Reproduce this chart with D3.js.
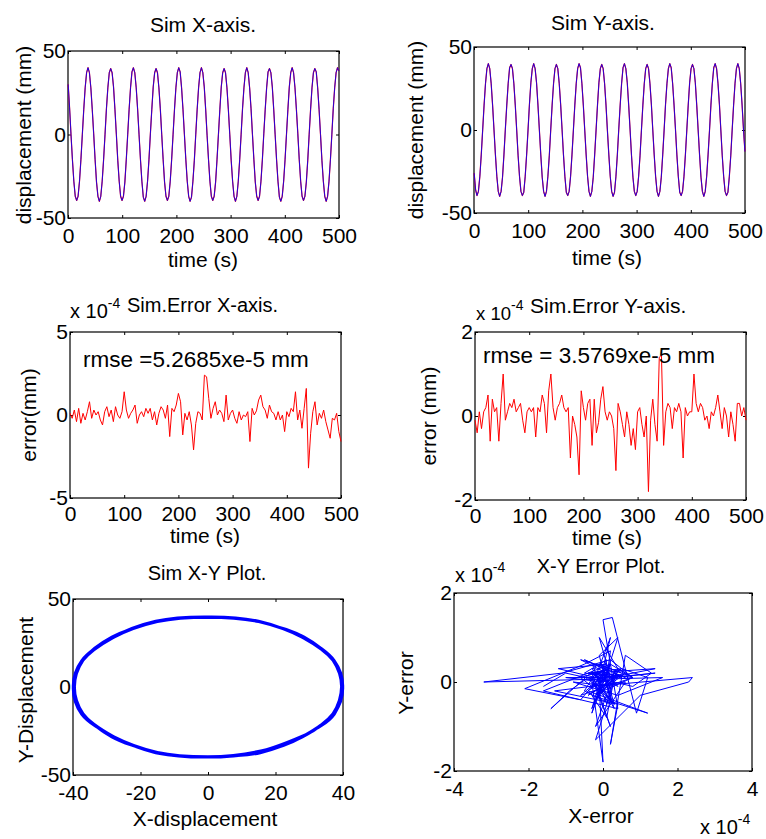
<!DOCTYPE html>
<html>
<head>
<meta charset="utf-8">
<script src="https://cdn.jsdelivr.net/npm/d3@7"></script>
<style>
body { margin: 0; background: #fff; }
</style>
</head>
<body>
<script>
var FONT = "'Liberation Sans', Arial, sans-serif";

// sim time samples (s), 16 per cycle of ~41.85 s
var simT = d3.range(0.3, 500, 2.6156);

// simulated X displacement (mm), one cycle per row
var simX = [
  30, 16, 0, -15, -28, -37, -39.5, -37, -28, -15, 0, 15, 28, 37, 40, 37,
  28, 15, 0.5, -15, -28.5, -37, -40, -37, -28, -15, 0, 15.5, 28, 37, 39.5, 37,
  28.5, 15, 0, -15.5, -28, -37, -39.5, -37, -28.5, -15, 0, 15, 28, 37.5, 40, 37,
  28, 15, 0, -15, -28, -37.5, -40, -37, -28, -15, 0.5, 15, 28.5, 37, 39.5, 37,
  28, 15.5, 0, -15, -28.5, -37, -39.5, -37, -28, -15, 0, 15, 28, 37, 40, 37.5,
  28, 15, 0, -15, -28, -37, -40, -37.5, -28, -15.5, 0, 15, 28, 37, 40, 37,
  28.5, 15, -0.5, -15, -28, -37, -39.5, -37, -28.5, -15, 0, 15, 28.5, 37, 39.5, 37,
  28, 15, 0, -15.5, -28, -37, -40, -37, -28, -15, 0, 15.5, 28, 37, 40, 37,
  28, 15.5, 0, -15, -28.5, -37, -39.5, -37, -28, -15, 0.5, 15, 28, 37.5, 39.5, 37,
  28.5, 15, 0, -15, -28, -37.5, -40, -37, -28, -15, 0, 15, 28.5, 37, 40, 37,
  28, 15, 0.5, -15, -28, -37, -39.5, -37, -28.5, -15.5, 0, 15, 28, 37, 39.5, 37.5,
  28, 15, 0, -15.5, -28, -37, -40, -37, -28, -15, 0, 15.5, 28, 37, 40, 38
];

// simulated Y displacement (mm), one cycle per row
var simY = [
  -26, -36, -39.5, -37, -28, -15, 0, 15, 28, 37, 40, 37, 28, 15, 0, -15,
  -28, -37, -40, -37, -28.5, -15, 0.5, 15, 28, 37.5, 39.5, 37, 28, 15, 0, -15.5,
  -28, -37, -39.5, -37.5, -28, -15, 0, 15.5, 28.5, 37, 40, 37, 28.5, 15, 0, -15,
  -28.5, -37, -40, -37, -28, -15.5, 0, 15, 28, 37, 39.5, 37, 28, 15.5, 0.5, -15,
  -28, -37.5, -39.5, -37, -28, -15, 0, 15, 28, 37, 40, 37.5, 28, 15, 0, -15,
  -28, -37, -40, -37, -28.5, -15, 0, 15, 28.5, 37, 39.5, 37, 28, 15, -0.5, -15,
  -28, -37, -40, -37.5, -28, -15, 0.5, 15, 28, 37.5, 40, 37, 28.5, 15, 0, -15.5,
  -28.5, -37, -39.5, -37, -28, -15.5, 0, 15, 28, 37, 39.5, 37, 28, 15.5, 0, -15,
  -28, -37, -40, -37, -28.5, -15, 0, 15.5, 28, 37, 40, 37.5, 28, 15, 0.5, -15,
  -28, -37.5, -39.5, -37, -28, -15, 0, 15, 28.5, 37, 39.5, 37, 28.5, 15, 0, -15,
  -28.5, -37, -40, -37, -28, -15, -0.5, 15, 28, 37.5, 40, 37, 28, 15.5, 0, -15.5,
  -28, -37, -39.5, -37.5, -28, -15.5, 0, 15, 28, 37, 40, 37, 28, 15, 0, -13
];

// error samples every 4 s, values in units of 1e-4 mm
var errT = d3.range(0, 501, 4);
var errX = [
  0.1, -0.2, 0.3, -0.4, 0.4, -0.5, 0.1, -0.3, 0.2, 0.8,
  -0.2, 0.3, 0.0, 0.2, -0.3, -0.6, 0.2, 0.5, -0.1, 0.3,
  -0.4, 0.5, 0.0, -0.2, 0.2, 1.4, 0.3, -0.2, 0.1, 0.3,
  0.6, -0.5, 0.0, 0.2, -0.1, 0.4, 0.1, 0.4, -0.3, 0.2,
  -0.6, 0.1, 0.5, 0.3, -0.2, 0.6, -1.3, 0.4, 0.2, 0.6,
  1.3, 0.8, -1.2, 0.1, -0.3, 0.2, -0.6, -2.1, -0.5, 0.2,
  0.1, -0.3, 2.4, 2.3, 1.0, -0.2, 0.4, 0.8, 0.0, 0.3,
  0.1, -0.4, 1.2, -0.3, 0.1, 0.3, -0.2, -0.5, 0.2, -0.3,
  0.0, -0.1, 0.2, -1.6, 0.4, 0.0, 0.25, 0.9, 1.2, 0.5,
  0.3, -0.2, 0.6, 0.2, 0.1, -0.3, 0.2, -0.3, 0.0, -1.0,
  0.2, -0.1, 0.4, 0.2, 1.4, -0.3, 0.3, -0.8, 0.4, 1.6,
  -3.2, -1.1, 0.2, 0.8, -0.6, 0.1, -0.2, 0.3, -0.4, -0.9,
  -1.4, -0.2, -0.3, 0.1, -1.0, -1.6
];
var errY = [
  -0.1, -0.4, 0.1, -0.3, 0.1, 0.2, 0.5, -0.6, 0.4, 0.1,
  0.2, -0.6, 0.3, 1.0, -0.1, 0.1, 0.3, 0.2, 0.4, 0.1,
  0.2, 0.3, -0.1, -0.4, 0.1, 0.2, 0.1, 0.2, -0.5, 0.2,
  0.1, 0.5, 0.3, -0.4, 0.6, 1.0, 0.2, -0.1, 0.2, 0.3,
  0.5, 0.2, 0.1, 0.2, -1.0, 0.0, -0.2, -0.5, -1.4, 0.6,
  0.2, -0.1, 0.3, 0.4, -0.7, 0.4, -0.4, -0.15, 0.4, 0.7,
  0.1, -0.1, 0.1, 0.0, -0.3, -1.3, 0.3, 0.1, -0.2, -0.5,
  0.1, -0.2, -0.7, -0.3, -0.8, 0.1, 0.2, -0.2, -0.5, 0.0,
  -1.8, -0.1, 0.4, -0.2, -0.6, 1.4, 1.45, -0.7, 0.1, 0.3,
  0.2, -0.3, 0.2, 0.1, 0.3, 0.1, -1.0, 0.2, 0.0, 0.1,
  0.1, 1.0, 0.3, 0.1, 0.3, 0.2, -0.1, 0.0, -0.3, 0.1,
  0.0, 0.2, 0.5, 0.1, -0.3, 0.2, 0.0, -0.5, 0.1, -0.2,
  -0.6, 0.3, 0.3, 0.0, 0.2, -0.1
];

// tick values
var timeTicks = [0, 100, 200, 300, 400, 500];
var dispTicks = [-50, 0, 50];
var errXTicks = [-5, 0, 5];
var errYTicks = [-2, 0, 2];
var xyXTicks = [-40, -20, 0, 20, 40];
var xyErrXTicks = [-4, -2, 0, 2, 4];

var svg = d3.select("body").append("svg").attr("width", 766).attr("height", 839)
  .style("font-family", FONT);

function txt(x, y, s, size, anchor, rot) {
  var t = svg.append("text").attr("x", x).attr("y", y).text(s)
    .attr("font-size", size).attr("fill", "#000")
    .attr("text-anchor", anchor || "middle");
  if (rot) t.attr("transform", "rotate(-90," + x + "," + y + ")");
  return t;
}

// "x 10^-4" exponent label
function expo(x, y, size) {
  var t = svg.append("text").attr("x", x).attr("y", y)
    .attr("font-size", size).attr("fill", "#000");
  t.append("tspan").text("x 10");
  t.append("tspan").attr("dy", -10).attr("font-size", 14).text("-4");
  return t;
}

function panel(p) {
  var x = d3.scaleLinear().domain(p.xd).range([p.l, p.r]);
  var y = d3.scaleLinear().domain(p.yd).range([p.b, p.t]);
  var fmt = function(d) { return String(d); };
  function style(g) {
    g.select(".domain").remove();
    g.selectAll("line").attr("stroke", "#000");
    g.selectAll("text").attr("font-size", 21).attr("font-family", FONT).attr("fill", "#000");
  }
  svg.append("g").attr("transform", "translate(0," + p.b + ")")
    .call(d3.axisBottom(x).tickValues(p.xt).tickSize(-3).tickPadding(p.pad || 10).tickFormat(fmt)).call(style);
  svg.append("g").attr("transform", "translate(0," + p.t + ")")
    .call(d3.axisTop(x).tickValues(p.xt).tickSize(-3).tickFormat("")).call(style);
  svg.append("g").attr("transform", "translate(" + p.l + ",0)")
    .call(d3.axisLeft(y).tickValues(p.yt).tickSize(-3).tickPadding(2).tickFormat(fmt)).call(style);
  svg.append("g").attr("transform", "translate(" + p.r + ",0)")
    .call(d3.axisRight(y).tickValues(p.yt).tickSize(-3).tickFormat("")).call(style);
  svg.append("rect").attr("x", p.l).attr("y", p.t).attr("width", p.r - p.l).attr("height", p.b - p.t)
    .attr("fill", "none").attr("stroke", "#000").attr("stroke-width", 1.2);
  return { x: x, y: y };
}

function drawLine(xs, ys, sx, sy, color, w, curve, op) {
  var pts = xs.map(function(d, i) { return [d, ys[i]]; });
  svg.append("path").datum(pts)
    .attr("d", d3.line().x(function(d) { return sx(d[0]); }).y(function(d) { return sy(d[1]); }).curve(curve || d3.curveLinear))
    .attr("fill", "none").attr("stroke", color).attr("stroke-width", w)
    .attr("stroke-opacity", op == null ? 1 : op).attr("stroke-linejoin", "round");
}

// 1. Sim X-axis
var p1 = panel({ l: 68, r: 339, t: 51, b: 218, xd: [0, 500], yd: [-50, 50], xt: timeTicks, yt: dispTicks });
drawLine(simT, simX, p1.x, p1.y, "#ff0000", 1.2);
drawLine(simT, simX, p1.x, p1.y, "#0000ff", 1, d3.curveLinear, 0.85);
txt(203, 32, "Sim X-axis.", 21);
txt(203, 267, "time (s)", 21);
txt(31, 135, "displacement (mm)", 21, "middle", true);

// 2. Sim Y-axis
var p2 = panel({ l: 474, r: 745, t: 47, b: 213, xd: [0, 500], yd: [-50, 50], xt: timeTicks, yt: dispTicks });
drawLine(simT, simY, p2.x, p2.y, "#ff0000", 1.2);
drawLine(simT, simY, p2.x, p2.y, "#0000ff", 1, d3.curveLinear, 0.85);
txt(603, 30, "Sim Y-axis.", 21);
txt(607, 265, "time (s)", 21);
txt(423, 130, "displacement (mm)", 21, "middle", true);

// 3. Sim error X
var p3 = panel({ l: 70, r: 341, t: 332, b: 498, xd: [0, 500], yd: [-5, 5], xt: timeTicks, yt: errXTicks, pad: 8 });
drawLine(errT, errX, p3.x, p3.y, "#ff0000", 1);
expo(70, 318, 20);
txt(127, 312, "Sim.Error X-axis.", 20, "start");
txt(83, 367, "rmse =5.2685xe-5 mm", 22.5, "start");
txt(205, 543, "time (s)", 21);
txt(36, 415, "error(mm)", 21, "middle", true);

// 4. Sim error Y
var p4 = panel({ l: 475, r: 746, t: 332, b: 500, xd: [0, 500], yd: [-2, 2], xt: timeTicks, yt: errYTicks, pad: 8 });
drawLine(errT, errY, p4.x, p4.y, "#ff0000", 1);
expo(476, 320, 18.5);
txt(530, 313, "Sim.Error Y-axis.", 21, "start");
txt(483, 363, "rmse = 3.5769xe-5 mm", 22.5, "start");
txt(607, 545, "time (s)", 21);
txt(436, 416, "error (mm)", 21, "middle", true);

// 5. Sim X-Y plot
var p5 = panel({ l: 73, r: 343, t: 599, b: 775, xd: [-40, 40], yd: [-50, 50], xt: xyXTicks, yt: dispTicks });
drawLine(simX, simY, p5.x, p5.y, "#0000ff", 2.4, d3.curveCatmullRom);
txt(207, 580, "Sim X-Y Plot.", 20);
txt(205, 826, "X-displacement", 21);
txt(33, 690, "Y-Displacement", 21, "middle", true);

// 6. X-Y error plot
var p6 = panel({ l: 454, r: 752, t: 593, b: 771, xd: [-4, 4], yd: [-2, 2], xt: xyErrXTicks, yt: errYTicks });
drawLine(errX, errY, p6.x, p6.y, "#0000ff", 1);
txt(601, 573, "X-Y Error Plot.", 20);
expo(455, 582, 20);
expo(700, 834, 20);
txt(601, 823, "X-error", 21);
txt(413, 683, "Y-error", 21, "middle", true);
</script>
</body>
</html>
